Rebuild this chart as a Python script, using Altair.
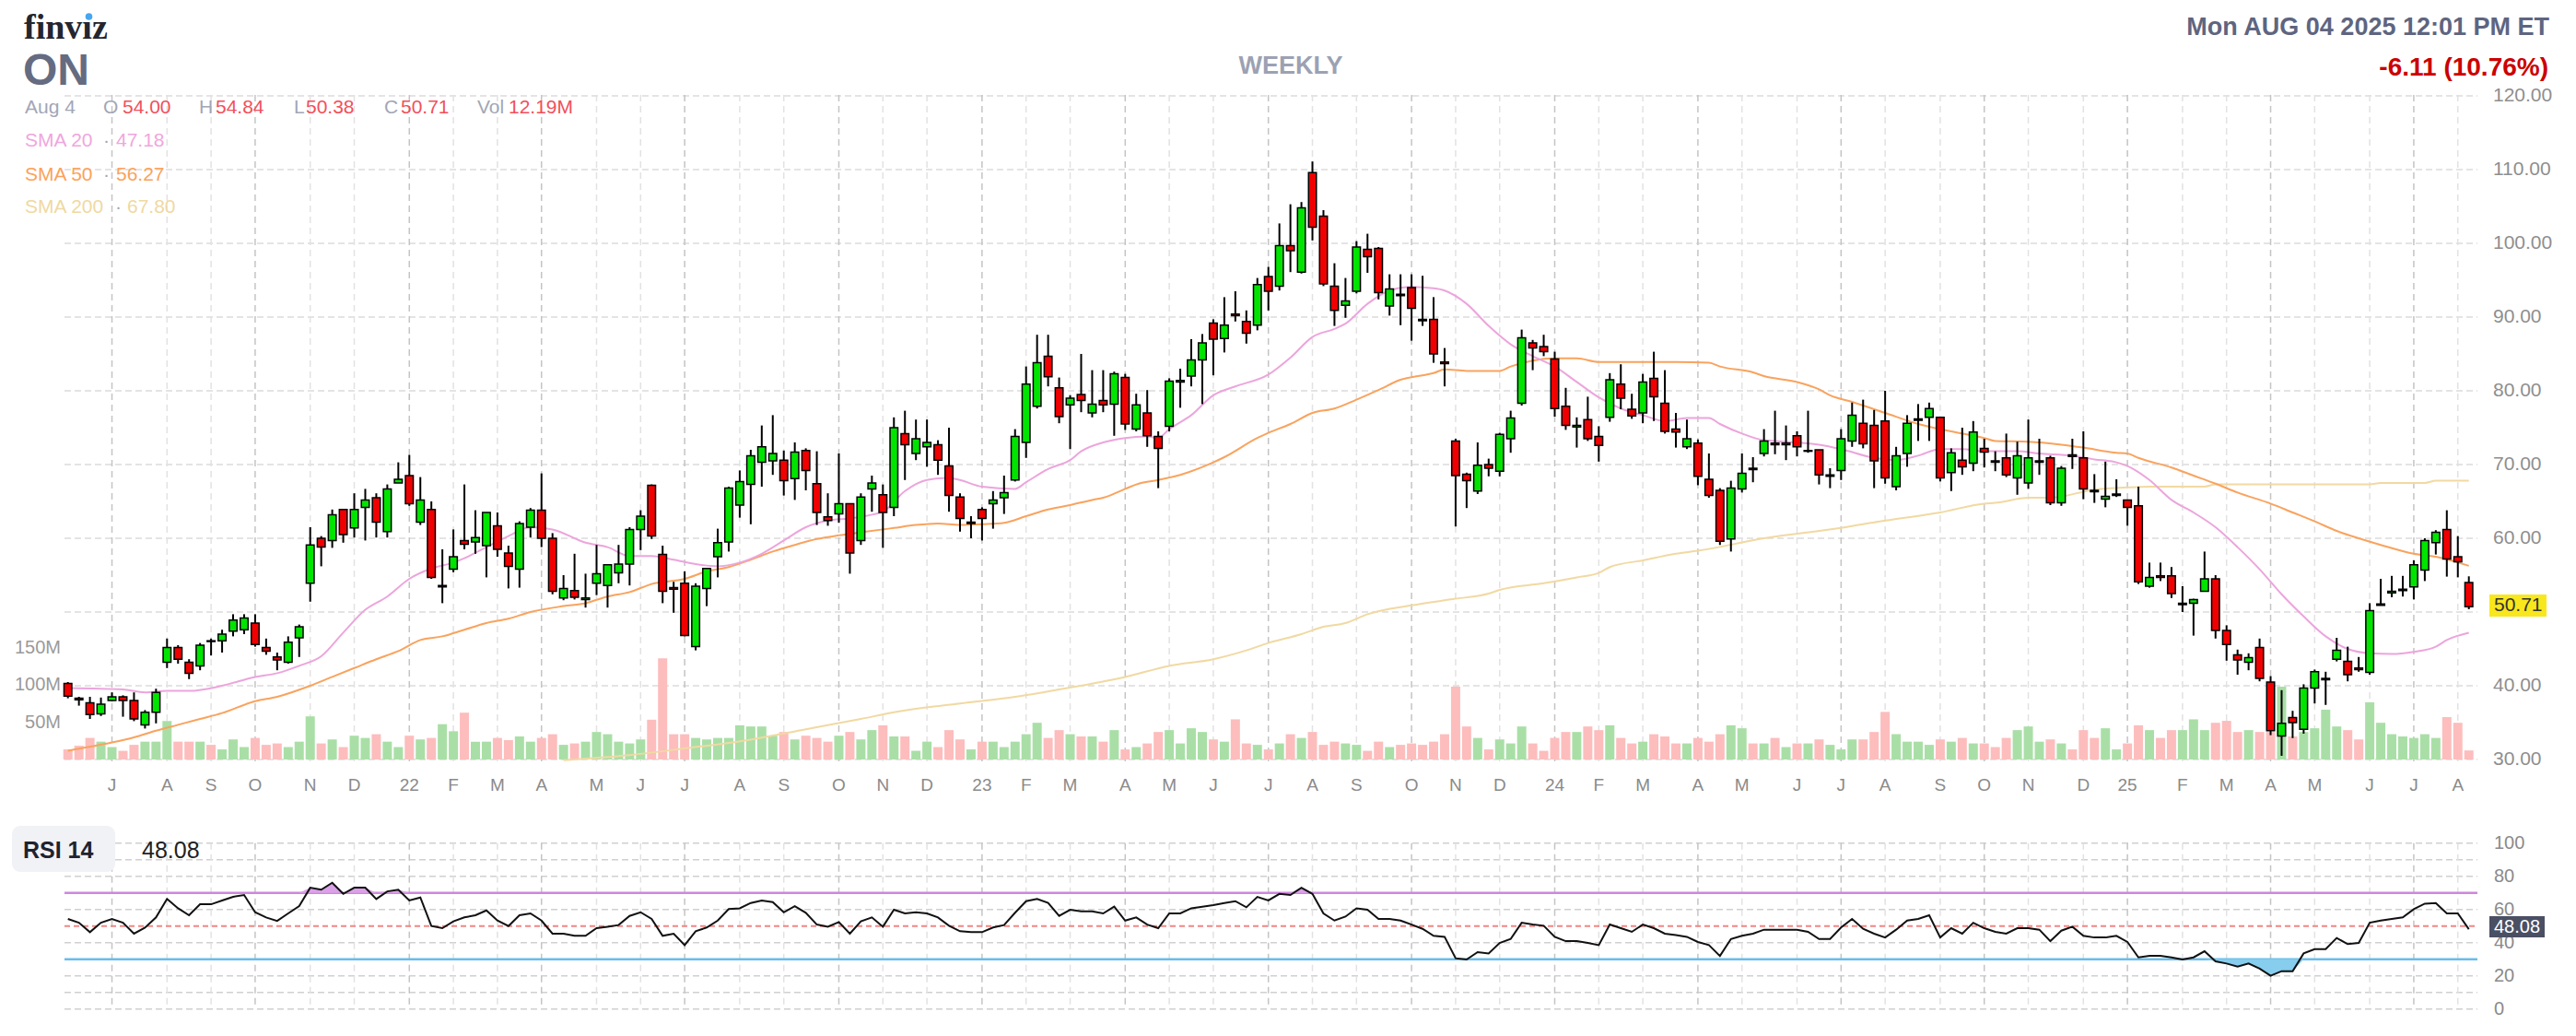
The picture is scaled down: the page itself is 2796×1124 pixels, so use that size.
import altair as alt
import pandas as pd

FONT = "Liberation Sans, Arial, Helvetica, sans-serif"

# ---------------- data (weekly candles, Jun 2021 - Aug 2025) ----------------
opens = [40.3, 38.3, 37.7, 36.2, 38.0, 38.5, 38.0, 34.7, 36.4, 43.2,
 45.2, 43.2, 42.7, 46.1, 46.1, 47.4, 47.6, 48.5, 45.2, 43.9,
 43.2, 46.5, 53.9, 60.0, 59.7, 63.9, 61.4, 64.2, 65.5, 60.9,
 67.5, 68.5, 62.2, 63.9, 53.4, 55.8, 59.7, 59.5, 59.0, 61.7,
 58.0, 55.8, 61.5, 63.8, 60.0, 51.9, 52.9, 51.7, 53.9, 53.6,
 55.3, 56.5, 61.2, 67.2, 57.8, 53.3, 53.9, 45.3, 53.2, 57.5,
 59.5, 64.5, 67.3, 70.3, 70.5, 70.6, 68.1, 71.9, 67.4, 62.9,
 63.3, 64.7, 59.7, 66.7, 65.9, 64.2, 74.2, 71.5, 72.4, 72.7,
 69.8, 65.6, 62.0, 63.9, 64.7, 65.5, 67.9, 73.0, 77.9, 84.7,
 80.4, 78.1, 79.5, 77.0, 78.7, 78.2, 81.8, 74.8, 77.0, 73.8,
 75.2, 81.2, 82.0, 84.2, 89.2, 87.1, 90.4, 89.4, 88.9, 95.5,
 94.2, 99.7, 96.1, 109.6, 103.7, 94.2, 91.6, 93.5, 99.2, 99.3,
 91.5, 93.1, 94.0, 89.7, 89.7, 83.9, 73.2, 68.7, 66.4, 70.0,
 69.1, 73.5, 78.3, 86.5, 86.0, 84.3, 77.9, 75.1, 76.1, 73.8,
 76.4, 80.9, 77.5, 77.0, 81.7, 78.3, 74.8, 72.4, 72.9, 68.0,
 66.5, 59.9, 66.7, 69.5, 71.5, 72.9, 72.7, 73.9, 71.8, 72.0,
 68.4, 69.2, 73.2, 75.6, 75.3, 75.9, 67.0, 71.5, 76.0, 76.4,
 76.4, 68.9, 70.6, 70.2, 72.2, 70.5, 70.9, 68.2, 67.5, 70.3,
 70.9, 64.8, 71.3, 70.9, 66.5, 65.3, 65.8, 65.2, 64.4, 53.5,
 54.9, 54.9, 51.0, 51.2, 52.8, 54.5, 47.5, 44.2, 43.2, 45.2,
 40.5, 33.2, 35.7, 34.1, 39.7, 40.8, 43.6, 43.3, 42.4, 41.8,
 50.9, 52.6, 52.9, 53.4, 55.7, 59.4, 61.2, 57.5, 54.00]

highs = [40.5, 38.5, 38.5, 38.4, 39.1, 38.7, 39.1, 36.7, 39.6, 46.4,
 45.5, 43.6, 45.8, 46.4, 47.6, 49.7, 49.7, 49.7, 46.4, 44.5,
 46.7, 48.3, 61.5, 60.3, 63.9, 63.9, 66.1, 66.7, 66.1, 67.3,
 70.3, 71.3, 68.3, 65.0, 58.5, 61.2, 67.3, 63.8, 63.5, 63.5,
 59.0, 62.3, 64.1, 68.8, 60.7, 55.0, 57.9, 55.2, 59.1, 56.5,
 59.1, 61.5, 63.8, 67.3, 59.0, 54.1, 55.5, 53.9, 56.0, 61.3,
 67.0, 69.2, 72.0, 75.3, 76.7, 71.9, 73.0, 72.2, 71.8, 66.1,
 71.5, 64.7, 66.1, 68.5, 67.3, 76.4, 77.3, 76.1, 76.1, 73.3,
 75.0, 66.1, 63.0, 64.2, 66.4, 68.5, 74.8, 83.3, 87.6, 87.6,
 81.8, 79.4, 85.0, 82.8, 82.8, 82.6, 82.3, 79.6, 80.1, 74.5,
 81.7, 83.0, 87.0, 87.7, 89.7, 92.7, 93.5, 90.9, 95.3, 96.8,
 102.7, 105.3, 105.6, 111.1, 104.5, 97.3, 95.3, 100.3, 101.3, 99.5,
 95.8, 95.8, 95.8, 95.6, 92.7, 85.8, 73.5, 68.9, 73.0, 70.8,
 74.3, 77.3, 88.3, 86.9, 87.6, 85.3, 80.4, 76.4, 79.2, 75.2,
 82.4, 83.6, 79.6, 82.3, 85.3, 82.8, 77.0, 76.1, 73.4, 71.5,
 66.8, 67.8, 71.5, 71.0, 74.8, 77.3, 75.3, 74.5, 77.3, 72.0,
 69.5, 74.8, 78.4, 78.8, 77.4, 80.0, 72.4, 76.7, 78.2, 78.4,
 76.4, 72.2, 75.0, 75.9, 73.5, 71.8, 74.2, 73.1, 76.1, 73.5,
 71.2, 69.8, 73.5, 74.5, 68.7, 70.4, 68.0, 65.2, 67.0, 56.7,
 56.7, 56.1, 53.5, 51.8, 58.2, 55.0, 48.2, 44.9, 44.4, 46.4,
 41.3, 39.4, 36.6, 40.2, 42.2, 41.9, 46.5, 45.3, 43.9, 51.2,
 54.5, 54.9, 54.9, 57.0, 60.0, 61.1, 63.8, 60.3, 54.84]

lows = [38.3, 37.3, 35.5, 35.9, 37.9, 35.8, 35.2, 34.2, 34.9, 42.4,
 43.0, 40.9, 42.1, 44.1, 44.5, 46.7, 47.0, 45.3, 44.2, 42.1,
 43.0, 43.9, 51.4, 56.2, 58.7, 59.4, 60.1, 59.7, 60.1, 60.1,
 67.5, 64.4, 61.8, 54.5, 51.2, 55.4, 58.5, 57.9, 54.7, 57.5,
 53.2, 53.3, 60.1, 58.8, 52.4, 51.6, 51.7, 50.6, 52.3, 50.6,
 53.9, 53.6, 58.4, 59.9, 51.2, 49.9, 46.7, 44.8, 50.8, 54.7,
 58.2, 62.8, 61.9, 67.0, 68.6, 65.8, 65.2, 66.5, 61.8, 61.7,
 62.1, 55.2, 59.1, 63.6, 58.7, 63.0, 67.9, 70.6, 69.7, 68.6,
 63.6, 60.9, 60.0, 59.7, 61.3, 63.3, 67.7, 70.9, 77.6, 80.6,
 75.6, 72.1, 77.1, 76.4, 77.1, 73.9, 74.7, 74.5, 72.4, 66.8,
 74.5, 77.7, 80.6, 78.2, 82.1, 85.2, 89.4, 86.4, 88.2, 90.9,
 93.6, 96.1, 95.9, 100.4, 94.2, 88.8, 89.9, 93.2, 96.0, 92.4,
 90.2, 88.9, 86.8, 88.8, 83.8, 80.6, 61.6, 64.1, 66.0, 68.4,
 68.4, 71.6, 78.0, 82.8, 84.7, 76.5, 74.7, 72.3, 73.2, 70.4,
 75.8, 77.5, 76.2, 75.6, 75.9, 74.2, 72.3, 72.1, 67.2, 65.5,
 59.1, 58.2, 66.2, 67.6, 71.1, 71.4, 70.6, 71.1, 71.6, 67.3,
 66.8, 67.9, 72.4, 72.2, 66.8, 67.4, 66.5, 69.7, 73.2, 73.2,
 67.7, 66.4, 68.6, 69.1, 69.6, 69.1, 68.3, 65.9, 66.7, 68.6,
 64.5, 64.4, 69.4, 65.3, 64.8, 64.2, 65.6, 61.7, 53.8, 53.3,
 54.2, 51.9, 50.0, 46.8, 52.8, 46.4, 43.4, 41.5, 42.1, 40.6,
 33.3, 30.5, 32.9, 33.5, 37.6, 37.4, 43.3, 40.6, 41.9, 41.5,
 50.9, 52.0, 52.1, 51.7, 54.2, 57.8, 54.8, 54.7, 50.38]

closes = [38.6, 38.1, 36.1, 37.5, 38.5, 38.0, 35.5, 36.4, 39.1, 45.2,
 43.6, 41.7, 45.5, 46.0, 47.0, 48.9, 49.2, 45.6, 44.7, 43.5,
 45.9, 48.0, 59.1, 58.8, 63.2, 60.5, 63.9, 65.2, 62.2, 66.7,
 68.0, 64.7, 65.2, 54.7, 53.6, 57.5, 59.2, 60.1, 63.5, 58.5,
 56.2, 62.0, 63.8, 60.0, 52.8, 53.2, 52.0, 51.9, 55.2, 56.4,
 56.5, 61.2, 63.0, 60.3, 52.8, 53.1, 46.8, 53.5, 55.9, 59.4,
 66.8, 67.7, 71.2, 72.4, 71.5, 67.8, 71.7, 69.2, 63.5, 62.4,
 64.7, 58.0, 65.6, 67.5, 63.5, 75.0, 72.7, 73.5, 73.0, 70.6,
 65.8, 62.7, 62.2, 62.7, 65.2, 66.2, 73.8, 80.9, 83.8, 81.9,
 76.5, 79.0, 78.7, 78.2, 78.1, 82.3, 75.5, 78.1, 73.9, 72.2,
 81.3, 81.4, 84.2, 86.5, 87.0, 88.9, 90.2, 87.8, 94.4, 93.5,
 99.7, 99.0, 104.8, 102.2, 94.5, 90.9, 92.2, 99.5, 98.2, 93.3,
 93.8, 92.9, 91.2, 89.5, 85.0, 83.7, 68.5, 67.8, 69.9, 69.5,
 74.1, 76.3, 87.2, 85.8, 85.3, 77.6, 75.3, 75.3, 73.5, 72.6,
 81.5, 79.0, 76.6, 81.2, 79.2, 74.5, 74.4, 73.5, 68.4, 65.8,
 59.6, 66.8, 68.8, 69.3, 73.2, 72.7, 72.9, 72.4, 71.9, 68.6,
 68.6, 73.5, 76.7, 72.8, 70.5, 68.2, 71.2, 75.6, 76.2, 77.6,
 68.2, 71.6, 69.7, 74.4, 71.7, 70.3, 68.6, 71.2, 70.9, 70.5,
 64.8, 69.5, 71.1, 66.7, 66.3, 65.7, 66.0, 64.2, 54.1, 54.7,
 54.7, 52.5, 51.2, 51.7, 54.5, 47.5, 45.6, 43.5, 43.8, 41.0,
 33.9, 34.9, 35.0, 39.7, 41.9, 41.0, 44.8, 41.5, 42.2, 50.2,
 51.1, 52.8, 53.1, 56.4, 59.7, 60.8, 57.2, 56.82, 50.71]

volume_m = [13.6, 18.5, 29, 24, 16.7, 11.7, 19.7, 24, 24, 51.8,
 24, 24, 24, 19.7, 13.6, 27, 16.7, 29, 19.7, 21.6,
 16.7, 24, 58, 21.6, 27, 16.7, 32, 29, 34, 24,
 16.7, 32, 27, 29, 47.5, 38, 63, 24,
 24, 29, 26, 31, 24, 29, 34, 19.7, 21.6, 24,
 37, 34, 24, 21.6, 27, 53.5, 136, 34, 34, 29,
 27, 29, 29, 46, 44.4, 44.4, 32, 37, 27, 32,
 29, 24, 32, 37, 27, 39.5, 46,
 31, 31, 11.7, 24, 16.7, 39.5, 27, 13.6, 24, 24,
 16.7, 24, 34, 49.4, 29, 39.5, 34, 31, 31, 24,
 39.5, 13.6, 16.7, 21.6, 37, 39.5, 21.6, 42, 37, 27,
 24, 54, 21.6, 19.7, 13.6, 21.6, 34,
 29, 37, 19.7, 24, 21.6, 19.7, 11.7, 24, 16.7, 19.7,
 21.6, 19.7, 24, 34, 98, 44.4, 29, 13.6, 27, 21.6,
 44.4, 21.6, 11.7, 29, 37, 37, 44.4, 39.5, 46, 29,
 21.6, 24, 34, 31, 21.6, 21.6,
 29, 24, 34, 46, 42, 21.6, 21.6, 29, 16.7, 21.6,
 21.6, 27, 19.7, 13.6, 27, 27, 37, 64, 34, 24,
 24, 19.7, 27, 24, 29, 21.6, 21.6, 16.7, 29, 39.5,
 44.4, 24, 27, 21.6, 13.6, 39.5, 29,
 42, 13.6, 21.6, 46, 39.5, 29, 39.5, 39.5, 54, 39.5,
 49.4, 52, 37, 39.5, 37, 37, 98, 31, 37, 42,
 67, 44.4, 39.5, 27, 77, 49.4, 34, 31, 29, 34,
 29, 57, 49.4, 12.19]

rsi14 = [54.3, 52, 46.3, 52, 54.3, 52, 45.4, 49, 55.2, 66.3,
 60.7, 56.5, 63.1, 63.1, 65.4, 67.6, 68.7, 58.3, 55.2, 53.1,
 57.6, 62, 73.1, 71.9, 76.1, 69.4, 73.1, 73.1, 66.3, 70.9,
 71.9, 65.4, 67.2, 50, 48.7, 52.8, 55.2, 56.5, 59.4, 53.3,
 50, 56.5, 57.6, 53.3, 45.4, 45.4, 44.1, 44.1, 48.7, 49.6,
 50.6, 56.1, 58.3, 54.3, 44.1, 45.4, 38.5, 46.9, 49.1, 53.3,
 60.2, 60.7, 63.9, 65.4, 64.4, 58.3, 62, 58, 50.9, 49.6,
 52.4, 45.4, 52.8, 55.2, 49.6, 59.8, 57.6, 58.3, 57.6, 55.2,
 50.2, 46.9, 46.3, 46.3, 49.1, 50.6, 58, 65, 66.3, 63.9,
 56.1, 59.8, 58.9, 58.9, 57.6, 61.7, 53.3, 55.2, 50.9, 48.7,
 57.6, 57.6, 60.7, 61.7, 62.6, 63.9, 65, 61.3, 67.6, 65.4,
 69.4, 68.7,
 73.1, 69.4, 57.6, 53.3, 55.7, 60.7, 59.8, 54.3, 54.3, 53.3,
 50.9, 48.3, 44.1, 43.5, 30.6, 29.8, 34.3, 33.5, 39.8, 42.2,
 52, 50.9, 50.2, 43.5, 40.9, 40.9, 39.8, 38.5, 50.9, 48.7,
 46.5, 50.9, 48.7, 45.4, 44.6, 43.5, 40.4, 38.5, 32, 42.2,
 44.1, 45.4, 47.8, 47.8, 47.8, 47.8, 46.5, 42.2, 42.2, 49.1,
 54.3, 48.3, 45.4, 43.1, 47.8, 53.3, 54.3, 56.5, 43.1, 48.7,
 45.4, 52, 48.7, 46.5, 45.4, 48.7, 48.7, 47.8, 40.9, 47.2,
 49.6, 44.1, 43.1, 43.1, 44.1, 40.4, 31.1, 32, 32, 31.1,
 29.8, 31.1, 34.8, 28.7, 27.4, 25.6, 27.4, 24.3, 20, 22.8,
 22.8, 33.5, 36.1, 36.1, 42.8, 39.1, 39.8, 52, 53.3, 54.3,
 55.2, 60.2, 63.5, 63.9, 57.6, 57.6, 48.08]

sma20_week = [0, 5, 7, 9, 11, 14, 17, 19, 21, 23, 25, 27, 29, 31, 33, 35, 36, 38, 40, 42,
 44, 47, 49, 51, 53, 55, 57, 59, 61, 63, 65, 67, 69, 71, 73, 74, 76, 78, 80, 81,
 83, 86, 87, 89, 91, 92, 94, 96, 98, 99, 100, 102, 104, 106, 109, 111, 113, 115, 116, 118,
 120, 122, 124, 125, 127, 129, 131, 133, 135, 137, 139, 141, 143, 145, 147, 149, 150, 152, 154, 157,
 159, 161, 164, 166, 168, 170, 172, 174, 177, 179, 182, 184, 186, 187, 189, 191, 193, 195, 197, 199,
 201, 203, 205, 207, 209, 211, 213, 215, 216, 218]
sma20 = [39.7, 39.5, 39.1, 39.3, 39.3, 40.0, 41.2, 41.7, 42.7, 44.0, 47.2, 50.3, 52.1, 54.5, 55.9, 56.7, 57.3, 58.8, 60.3, 61.5,
 61.2, 59.4, 58.8, 57.6, 57.6, 57.1, 56.5, 56.2, 56.7, 57.9, 59.7, 61.5, 62.4, 62.7, 63.2, 63.6, 66.4, 67.9, 68.2, 67.9,
 67.0, 66.7, 67.6, 69.4, 70.6, 71.8, 73.0, 73.6, 73.8, 73.6, 74.8, 76.7, 79.4, 80.6, 82.2, 84.5, 87.3, 88.4, 89.1, 91.8,
 93.6, 94.1, 93.9, 93.6, 91.8, 88.8, 86.3, 84.7, 83.3, 81.2, 79.1, 77.6, 76.7, 75.9, 76.3, 76.3, 75.5, 74.2, 73.3, 73.0,
 72.7, 72.1, 70.9, 70.6, 71.2, 72.1, 72.1, 71.8, 71.8, 71.5, 71.2, 70.7, 70.3, 69.8, 67.9, 65.2, 63.5, 61.5, 58.8, 55.8,
 52.4, 49.4, 46.7, 45.0, 44.4, 44.3, 44.6, 45.3, 46.2, 47.18]

sma50_week = [0, 4, 6, 8, 10, 12, 14, 17, 19, 22, 24, 26, 28, 30, 32, 34, 36, 38, 40, 42,
 45, 47, 49, 51, 53, 56, 58, 60, 62, 64, 66, 68, 70, 72, 75, 77, 79, 81, 83, 85,
 87, 89, 91, 93, 94, 96, 97, 99, 101, 104, 105, 108, 109, 111, 113, 115, 117, 119, 121, 123,
 124, 125, 127, 130, 131, 133, 135, 137, 139, 141, 144, 146, 149, 150, 153, 154, 157, 159, 160, 162,
 165, 168, 171, 174, 175, 178, 181, 183, 186, 187, 188, 191, 193, 195, 197, 200, 202, 204, 206, 208,
 210, 213, 215, 218]
sma50 = [31.2, 32.3, 33.0, 33.9, 34.7, 35.5, 36.3, 37.9, 38.5, 40.0, 41.2, 42.4, 43.6, 44.7, 46.2, 46.7, 47.6, 48.5, 49.1, 50.0,
 50.8, 51.2, 52.1, 52.7, 53.8, 54.5, 55.5, 56.1, 57.1, 58.2, 59.1, 59.9, 60.4, 60.8, 61.4, 61.8, 62.0, 61.8, 61.9, 62.1,
 63.0, 63.9, 64.5, 65.2, 65.5, 66.7, 67.3, 67.9, 68.6, 70.3, 71.0, 73.6, 74.3, 75.5, 77.0, 77.6, 78.8, 80.1, 81.5, 82.1,
 82.4, 82.9, 82.7, 82.7, 83.3, 84.1, 84.4, 84.4, 83.9, 83.9, 83.9, 83.9, 83.8, 83.3, 82.5, 82.0, 81.2, 80.2, 79.4, 78.5,
 77.0, 75.5, 74.5, 73.6, 73.2, 73.1, 72.7, 72.3, 71.6, 71.5, 70.9, 69.6, 68.5, 67.4, 66.2, 64.7, 63.5, 62.3, 61.0, 60.0,
 59.1, 57.9, 57.5, 56.27]

sma200_week = [45, 51, 56, 62, 67, 72, 75, 81, 86, 90, 96, 100, 104, 107, 109, 112, 114, 116, 118, 122,
 126, 129, 130, 134, 137, 139, 140, 143, 146, 148, 154, 161, 165, 170, 174, 175, 178, 180, 184, 187,
 189, 194, 195, 209, 210, 214, 215, 218]
sma200 = [29.9, 30.6, 31.5, 32.7, 34.1, 35.5, 36.4, 37.6, 38.5, 39.5, 41.2, 42.7, 43.6, 44.8, 45.8, 47.0, 48.0, 48.5, 49.7, 50.9,
 51.8, 52.5, 53.0, 53.9, 54.7, 55.3, 56.1, 57.0, 57.9, 58.3, 60.0, 61.4, 62.4, 63.5, 64.7, 64.8, 65.5, 65.5, 66.6, 66.9,
 67.0, 67.0, 67.3, 67.3, 67.5, 67.5, 67.8, 67.8]

# first week of each month on the time axis
month_week = [4, 9, 13, 17, 22, 26, 31, 35, 39, 43, 48, 52, 56, 61, 65, 70, 74, 78,
 83, 87, 91, 96, 100, 104, 109, 113, 117, 122, 126, 130,
 135, 139, 143, 148, 152, 157, 161, 165, 170, 174, 178, 183,
 187, 192, 196, 200, 204, 209, 213, 217]
month_num = [7, 8, 9, 10, 11, 12, 1, 2, 3, 4, 5, 6, 7, 8, 9, 10, 11, 12,
 1, 2, 3, 4, 5, 6, 7, 8, 9, 10, 11, 12,
 1, 2, 3, 4, 5, 6, 7, 8, 9, 10, 11, 12,
 1, 2, 3, 4, 5, 6, 7, 8]
month_label = ["J", "A", "S", "O", "N", "D", "22", "F", "M", "A", "M", "J", "J", "A", "S", "O", "N", "D",
 "23", "F", "M", "A", "M", "J", "J", "A", "S", "O", "N", "D",
 "24", "F", "M", "A", "M", "J", "J", "A", "S", "O", "N", "D",
 "25", "F", "M", "A", "M", "J", "J", "A"]

# 50.00 is hidden behind the last-price marker in the reference
price_ticks = [30, 40, 60, 70, 80, 90, 100, 110, 120]
grid_prices = [30, 40, 50, 60, 70, 80, 90, 100, 110, 120]
vol_ticks = [50, 100, 150]
rsi_grid = [0, 10, 20, 40, 60, 80, 90, 100]
rsi_ticks = [0, 20, 40, 60, 80, 100]

# ---------------- tables ----------------
N = len(closes)
df = pd.DataFrame({"w": list(range(N)), "o": opens, "h": highs, "l": lows,
                   "c": closes, "v": volume_m, "rsi": rsi14})
df["zero"] = 0.0
months = pd.DataFrame({"w": month_week, "m": month_num, "t": month_label})
one = pd.DataFrame({"k": [0]})


def P(v):
    """page pixel -> view pixel (page has an 8px margin)"""
    return v - 8


XS = alt.Scale(domain=[0.108, 218.36], range=[P(70), P(2689)], nice=False, zero=False)
YP = alt.Scale(domain=[30, 120], range=[P(824), P(104)], nice=False, zero=False)
YV = alt.Scale(domain=[0, 150], range=[P(824), P(703)], nice=False, zero=False)
YR = alt.Scale(domain=[0, 100], range=[P(1094.7), P(914.7)], nice=False, zero=False)


def xw():
    return alt.X("w:Q", scale=XS, axis=None)


UP = "datum.c >= datum.o"
month_color = alt.condition("datum.m % 3 == 1", alt.value("#c4c4c4"), alt.value("#e2e2e2"))

# ---------------- grids ----------------
grid_ph = alt.Chart(pd.DataFrame({"p": grid_prices})).mark_rule(
    color="#dcdcdc", strokeWidth=1.5, strokeDash=[7, 4]).encode(
    y=alt.Y("p:Q", scale=YP, axis=None), x=alt.value(P(70)), x2=alt.value(P(2689)))
grid_pv = alt.Chart(months).mark_rule(strokeWidth=1.5, strokeDash=[7, 5]).encode(
    x=xw(), y=alt.value(P(103)), y2=alt.value(P(826)), color=month_color)
grid_rh = alt.Chart(pd.DataFrame({"r": rsi_grid})).mark_rule(
    color="#d0d0d0", strokeWidth=1.5, strokeDash=[7, 4]).encode(
    y=alt.Y("r:Q", scale=YR, axis=None), x=alt.value(P(70)), x2=alt.value(P(2689)))
grid_rv = alt.Chart(months).mark_rule(strokeWidth=1.5, strokeDash=[7, 5]).encode(
    x=xw(), y=alt.value(P(914.7)), y2=alt.value(P(1094.7)), color=month_color)

# ---------------- price panel ----------------
vol = alt.Chart(df).mark_bar(size=10).encode(
    x=xw(), y=alt.Y("v:Q", scale=YV, axis=None), y2="zero:Q",
    fill=alt.condition(UP, alt.value("#a9dfa6"), alt.value("#fdbdbd")))


def sma_line(idx, vals, color):
    return alt.Chart(pd.DataFrame({"w": idx, "s": vals})).mark_line(
        color=color, strokeWidth=2, interpolate="monotone").encode(
        x=xw(), y=alt.Y("s:Q", scale=YP, axis=None))


l200 = sma_line(sma200_week, sma200, "#f1d9a2")
l50 = sma_line(sma50_week, sma50, "#f9a35e")
l20 = sma_line(sma20_week, sma20, "#eca5dc")

wick = alt.Chart(df).mark_rule(color="#000000", strokeWidth=2).encode(
    x=xw(), y=alt.Y("l:Q", scale=YP, axis=None), y2="h:Q")
body = alt.Chart(df).mark_bar(size=8.5, stroke="#000000", strokeWidth=1.5).encode(
    x=xw(), y=alt.Y("o:Q", scale=YP, axis=None), y2="c:Q",
    fill=alt.condition(UP, alt.value("#00e400"), alt.value("#f00000")))


# ---------------- RSI panel ----------------
def level(value, color, dash=None, width=2.5):
    kw = dict(color=color, strokeWidth=width)
    if dash:
        kw["strokeDash"] = dash
    return alt.Chart(pd.DataFrame({"r": [value]})).mark_rule(**kw).encode(
        y=alt.Y("r:Q", scale=YR, axis=None), x=alt.value(P(70)), x2=alt.value(P(2689)))


lv70 = level(70, "#cf86dd")
lv30 = level(30, "#68bde8")
lv50 = level(50, "#f38585", dash=[6, 4], width=2)

fill_ob = alt.Chart(df).transform_calculate(top="max(datum.rsi, 70)", base="70").mark_area(
    color="#dba1e8").encode(x=xw(), y=alt.Y("top:Q", scale=YR, axis=None), y2="base:Q")
fill_os = alt.Chart(df).transform_calculate(bot="min(datum.rsi, 30)", base="30").mark_area(
    color="#86cdee").encode(x=xw(), y=alt.Y("bot:Q", scale=YR, axis=None), y2="base:Q")
rsi_line = alt.Chart(df).mark_line(color="#111111", strokeWidth=2).encode(
    x=xw(), y=alt.Y("rsi:Q", scale=YR, axis=None))

# ---------------- axis labels ----------------
plabels = alt.Chart(pd.DataFrame({"p": price_ticks})).mark_text(
    align="left", baseline="middle", font=FONT, fontSize=21, color="#8e8e8e").encode(
    y=alt.Y("p:Q", scale=YP, axis=None), x=alt.value(P(2706)), text=alt.Text("p:Q", format=".2f"))
last_df = pd.DataFrame({"c": [closes[-1]]})
lastbox = alt.Chart(last_df).transform_calculate(t="datum.c + 1.67", b="datum.c - 1.33").mark_rect(
    color="#f8e71c").encode(y=alt.Y("t:Q", scale=YP, axis=None), y2="b:Q",
                            x=alt.value(P(2702)), x2=alt.value(P(2764)))
lasttext = alt.Chart(last_df).transform_calculate(m="datum.c + 0.17").mark_text(
    align="left", baseline="middle", font=FONT, fontSize=21, color="#333333").encode(
    y=alt.Y("m:Q", scale=YP, axis=None), x=alt.value(P(2707)), text=alt.Text("c:Q", format=".2f"))

vlabels = alt.Chart(pd.DataFrame({"v": vol_ticks})).transform_calculate(t="datum.v + 'M'").mark_text(
    align="right", baseline="middle", font=FONT, fontSize=20, color="#9a9a9a").encode(
    y=alt.Y("v:Q", scale=YV, axis=None), x=alt.value(P(66)), text="t:N")

mlabels = alt.Chart(months).mark_text(
    baseline="middle", font=FONT, fontSize=19, color="#8a8a8a").encode(
    x=xw(), y=alt.value(P(851.7)), text="t:N")

rlabels = alt.Chart(pd.DataFrame({"r": rsi_ticks})).mark_text(
    align="left", baseline="middle", font=FONT, fontSize=20, color="#8a8a8a").encode(
    y=alt.Y("r:Q", scale=YR, axis=None), x=alt.value(P(2707)), text="r:Q")
rlast = pd.DataFrame({"r": [rsi14[-1]]})
rbox = alt.Chart(rlast).transform_calculate(t="datum.r + 7.8", b="datum.r - 4.9").mark_rect(
    color="#4a4f64").encode(y=alt.Y("t:Q", scale=YR, axis=None), y2="b:Q",
                            x=alt.value(P(2702)), x2=alt.value(P(2762)))
rtext = alt.Chart(rlast).transform_calculate(m="datum.r + 1.45").mark_text(
    align="center", baseline="middle", font=FONT, fontSize=20, color="#ffffff").encode(
    y=alt.Y("m:Q", scale=YR, axis=None), x=alt.value(P(2732)), text=alt.Text("r:Q", format=".2f"))


# ---------------- header texts ----------------
def label(text, x, y, size, color, weight="normal", align="left", baseline="middle", font=FONT):
    return alt.Chart(one).mark_text(
        text=text, align=align, baseline=baseline, font=font, fontSize=size,
        fontWeight=weight, color=color).encode(x=alt.value(P(x)), y=alt.value(P(y)))


GRAY = "#a2a6b6"
RED = "#f24f5b"
headers = [
    label("finvız", 26, 42, 38, "#23262f", "bold", baseline="alphabetic",
          font="Liberation Serif, Times New Roman, serif"),
    alt.Chart(one).mark_circle(size=58, color="#46a6f2", opacity=1).encode(
        x=alt.value(P(96.5)), y=alt.value(P(18))),
    label("ON", 25, 92, 48, "#656c81", "bold", baseline="alphabetic"),
    label("WEEKLY", 1401, 72, 27, "#9ca1b3", "bold", align="center"),
    label("Mon AUG 04 2025 12:01 PM ET", 2767, 38, 27, "#5e6580", "bold",
          align="right", baseline="alphabetic"),
    label("-6.11 (10.76%)", 2766, 82, 28, "#cc0000", "bold", align="right", baseline="alphabetic"),
    label("Aug 4", 27, 116.7, 21, GRAY),
    label("O", 112, 116.7, 21, GRAY),
    label(f"{opens[-1]:.2f}", 133, 116.7, 21, RED),
    label("H", 216, 116.7, 21, GRAY),
    label(f"{highs[-1]:.2f}", 234, 116.7, 21, RED),
    label("L", 319, 116.7, 21, GRAY),
    label(f"{lows[-1]:.2f}", 332, 116.7, 21, RED),
    label("C", 417, 116.7, 21, GRAY),
    label(f"{closes[-1]:.2f}", 435, 116.7, 21, RED),
    label("Vol", 518, 116.7, 21, GRAY),
    label(f"{volume_m[-1]:.2f}M", 552, 116.7, 21, RED),
    label("SMA 20", 27, 152.5, 21, "#f0a6de"),
    label("·", 112, 152.5, 21, GRAY),
    label(f"{sma20[-1]:.2f}", 126, 152.5, 21, "#f0a6de"),
    label("SMA 50", 27, 189.5, 21, "#fba25a"),
    label("·", 112, 189.5, 21, GRAY),
    label(f"{sma50[-1]:.2f}", 126, 189.5, 21, "#fba25a"),
    label("SMA 200", 27, 224.5, 21, "#efd9a2"),
    label("·", 125, 224.5, 21, GRAY),
    label(f"{sma200[-1]:.2f}", 138, 224.5, 21, "#efd9a2"),
]

rsi_bg = alt.Chart(one).mark_rect(color="#f1f2f5", cornerRadius=9).encode(
    x=alt.value(P(13)), x2=alt.value(P(125)), y=alt.value(P(896)), y2=alt.value(P(946)))
rsi_title = label("RSI 14", 25, 930.7, 25, "#1f2330", "bold", baseline="alphabetic")
rsi_val = label(f"{rsi14[-1]:.2f}", 154, 930.7, 25, "#222222", baseline="alphabetic")

layers = [grid_ph, grid_pv, grid_rh, grid_rv,
          vol, l200, l50, l20, wick, body,
          lv70, lv30, lv50, fill_ob, fill_os, rsi_line,
          plabels, lastbox, lasttext, vlabels, mlabels, rlabels, rbox, rtext,
          rsi_bg, rsi_title, rsi_val] + headers

chart = alt.layer(*layers).resolve_scale(y="independent").properties(
    width=2780, height=1104, padding=0, background="white",
    autosize=alt.AutoSizeParams(type="none")
).configure_view(stroke=None)

chart.save("out.html", embed_options={"renderer": "svg", "actions": False})
